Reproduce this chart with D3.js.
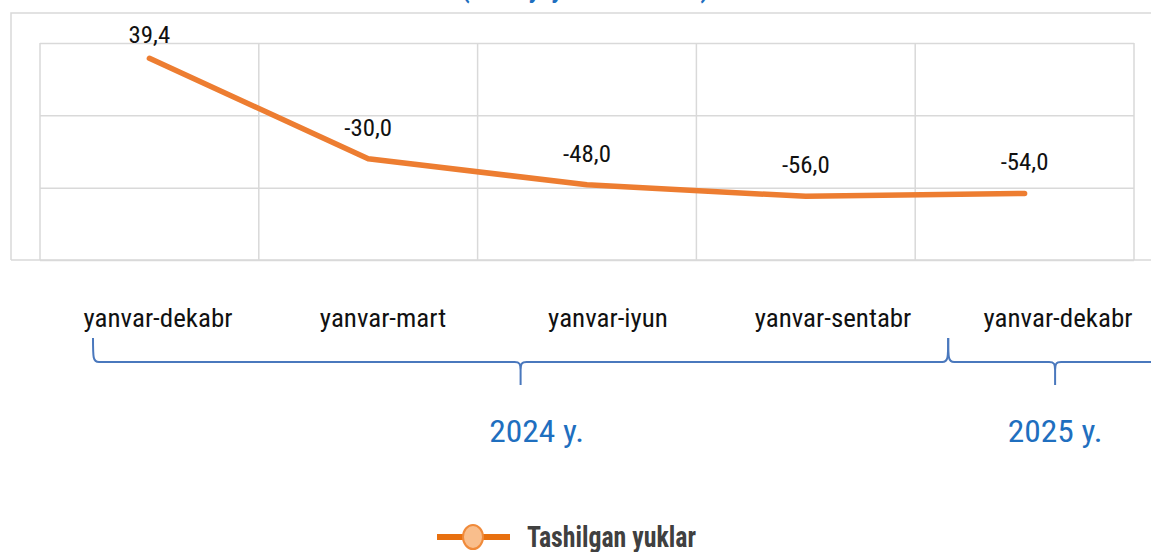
<!DOCTYPE html>
<html>
<head>
<meta charset="UTF-8">
<title>Tashilgan yuklar</title>
<script src="https://cdn.jsdelivr.net/npm/d3@7"></script>
<style>
  body { margin: 0; background: #fff; }
  text { font-family: "Roboto Condensed", "Liberation Sans Narrow", Roboto, sans-serif; }
  .grid line, .grid path { stroke: #d9d9d9; stroke-width: 1.5; }
</style>
</head>
<body>
<div id="chart"></div>
<script>
// data
var categories = ["yanvar-dekabr", "yanvar-mart", "yanvar-iyun", "yanvar-sentabr", "yanvar-dekabr "];
var values = [39.4, -30.0, -48.0, -56.0, -54.0];
var groups = ["2024 y.", "2025 y."];
var groupSpan = [[0, 4], [4, 5]];
var yTicks = [-100, -50, 0, 50];
var seriesName = "Tashilgan yuklar";
var titleText = "(2024 y. yanvar-dekabr)";

var width = 1151, height = 552;
var plot = { left: 40, right: 1134, top: 43, bottom: 260 };
var orange = "#ED7D31", blue = "#1F6FBF", bracketCol = "#4A78BD";
var sx = 1.08; // horizontal stretch of the narrow font

var svg = d3.select("#chart").append("svg")
  .attr("width", width).attr("height", height);

var x = d3.scaleBand().domain(categories).range([plot.left, plot.right]);
var y = d3.scaleLinear().domain([-100, 50]).range([plot.bottom, plot.top]);
var xLab = d3.scalePoint().domain(categories).range([158, 1058]);
var xAx = d3.scaleLinear().domain([0, 5]).range([93, 1162]);

function ctext(sel, px, py, k) {
  return sel.attr("transform", "translate(" + px + "," + py + ") scale(" + (k || sx) + ",1)")
    .attr("text-anchor", "middle");
}

// title (cut off at top, as in the source)
ctext(svg.append("text"), 585, -2)
  .attr("font-size", 24).attr("font-weight", "bold").attr("fill", blue)
  .text(titleText);

// outer frame
svg.append("path")
  .attr("d", "M11,260V13H" + width + "M11,260H" + width)
  .attr("fill", "none").attr("stroke", "#d9d9d9").attr("stroke-width", 1.5);

// horizontal grid
svg.append("g").attr("class", "grid")
  .attr("transform", "translate(" + plot.left + ",0)")
  .call(d3.axisLeft(y).tickValues(yTicks).tickSize(-(plot.right - plot.left)).tickFormat(""))
  .call(function(g) { g.select(".domain").remove(); });

// vertical grid at band edges
var edges = categories.map(function(c) { return x(c); }).concat([plot.right]);
svg.append("g").selectAll("line").data(edges).enter().append("line")
  .attr("x1", function(d) { return d; }).attr("x2", function(d) { return d; })
  .attr("y1", plot.top).attr("y2", plot.bottom)
  .attr("stroke", "#d9d9d9").attr("stroke-width", 1.5);

// line
var pts = values.map(function(v, i) { return [x(categories[i]) + x.bandwidth() / 2, y(v)]; });
svg.append("path")
  .attr("d", d3.line()(pts))
  .attr("fill", "none").attr("stroke", orange).attr("stroke-width", 5.5)
  .attr("stroke-linecap", "round").attr("stroke-linejoin", "round");

// data labels
values.forEach(function(v, i) {
  ctext(svg.append("text"), pts[i][0], Math.max(pts[i][1] - 23, 43))
    .attr("font-size", 23).attr("fill", "#111")
    .text(d3.format(".1f")(v).replace(".", ",").replace("−", "-"));
});

// category labels
categories.forEach(function(c) {
  ctext(svg.append("text"), xLab(c), 327)
    .attr("font-size", 25).attr("fill", "#111")
    .text(c.trim());
});

// group brackets
groups.forEach(function(g, i) {
  var a = xAx(groupSpan[i][0]), b = xAx(groupSpan[i][1]), m = (a + b) / 2;
  var yl = 362;
  var d = "M" + a + ",338 C" + a + ",358 " + a + "," + yl + " " + (a + 6) + "," + yl +
    " L" + (m - 6) + "," + yl + " C" + (m - 1) + "," + yl + " " + m + "," + (yl + 2) + " " + m + "," + (yl + 8) +
    " L" + m + "," + 385 +
    " M" + m + "," + (yl + 8) + " C" + m + "," + (yl + 2) + " " + (m + 1) + "," + yl + " " + (m + 6) + "," + yl +
    " L" + (b - 6) + "," + yl + " C" + b + "," + yl + " " + b + "," + 358 + " " + b + ",338";
  svg.append("path").attr("d", d).attr("fill", "none")
    .attr("stroke", bracketCol).attr("stroke-width", 2);
  ctext(svg.append("text"), i === 0 ? m + 16 : m, 442)
    .attr("font-size", 31).attr("fill", blue).text(g);
});

// legend
var lg = svg.append("g").attr("transform", "translate(437,537)");
lg.append("line").attr("x1", 0).attr("x2", 73).attr("y1", 0).attr("y2", 0)
  .attr("stroke", "#E8700F").attr("stroke-width", 6);
lg.append("ellipse").attr("cx", 36).attr("cy", 0).attr("rx", 10).attr("ry", 12)
  .attr("fill", "#F9BE8C").attr("stroke", "#F08A3A").attr("stroke-width", 2);
lg.append("text").attr("transform", "translate(90,10) scale(0.89,1)")
  .attr("font-size", 29).attr("font-weight", "bold").attr("fill", "#404040")
  .text(seriesName);
</script>
</body>
</html>
